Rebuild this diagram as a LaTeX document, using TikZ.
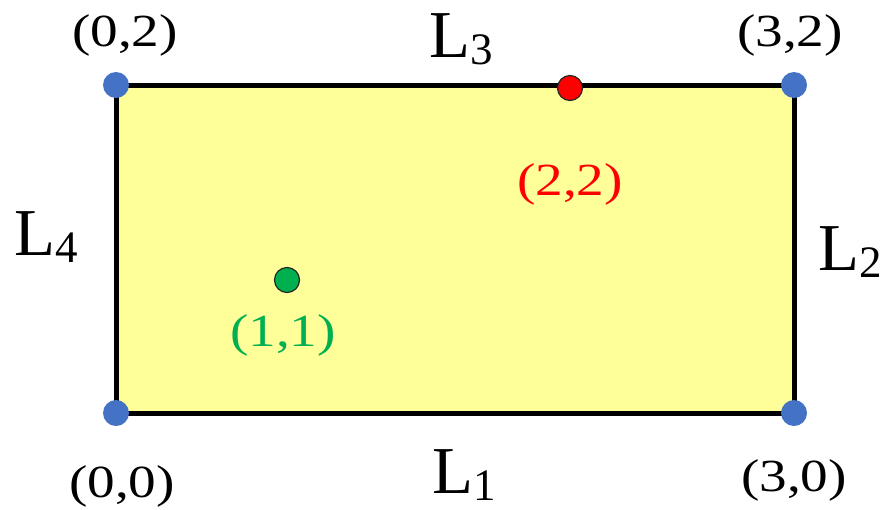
\documentclass[tikz,border=0pt]{standalone}
\usepackage{fontspec}
\setmainfont{Liberation Serif}
\newfontfamily\coordfont[FakeStretch=1.2]{Liberation Serif}
\definecolor{cblue}{HTML}{4472C4}
\definecolor{cyellow}{HTML}{FFFF99}
\definecolor{cred}{HTML}{FF0000}
\definecolor{cgreen}{HTML}{00B050}
\tikzset{
  corner/.style={circle, fill=cblue, inner sep=0pt, minimum size=26pt},
  marked/.style={circle, draw=black!85, line width=1.2pt, inner sep=0pt, minimum size=25pt},
  coordlbl/.style={anchor=base, inner sep=0pt, font=\coordfont\fontsize{46}{52}\selectfont},
  sidelbl/.style={anchor=base west, inner sep=0pt, font=\fontsize{67}{80}\selectfont},
  edge/.style={line width=5pt, line join=miter}
}
\newcommand{\sidesub}[1]{\raisebox{-7pt}{\fontsize{45}{50}\selectfont #1}}
\begin{document}
\begin{tikzpicture}[x=1pt, y=-1pt]
  \useasboundingbox (0,0) rectangle (883,509);
  \coordinate (A) at (116,413);
  \coordinate (B) at (794,413);
  \coordinate (C) at (794,85);
  \coordinate (D) at (116,85);
  \fill[cyellow] (A) -- (B) -- (C) -- (D) -- cycle;
  \draw[edge] (A) -- (B) -- (C) -- (D) -- cycle;
  \node[corner] (nA) at (A) {};
  \node[corner] (nB) at (B) {};
  \node[corner] (nC) at (C) {};
  \node[corner] (nD) at (D) {};
  \node[marked, fill=cred] (red) at (570,88) {};
  \node[marked, fill=cgreen] (green) at (287,280) {};
  % coordinate labels
  \node[coordlbl] (t02) at (125,46) {(0,2)};
  \node[coordlbl] (t32) at (790,46) {(3,2)};
  \node[coordlbl] (t00) at (122,497) {(0,0)};
  \node[coordlbl] (t30) at (794,491) {(3,0)};
  \node[coordlbl, text=cred] (t22) at (570,195) {(2,2)};
  \node[coordlbl, text=cgreen] (t11) at (283,346) {(1,1)};
  % side labels
  \node[sidelbl] (L1) at (432,493) {L\sidesub{1}};
  \node[sidelbl] (L2) at (818,270) {L\sidesub{2}};
  \node[sidelbl] (L3) at (429,57) {L\sidesub{3}};
  \node[sidelbl] (L4) at (14,255) {L\sidesub{4}};
\end{tikzpicture}
\end{document}
